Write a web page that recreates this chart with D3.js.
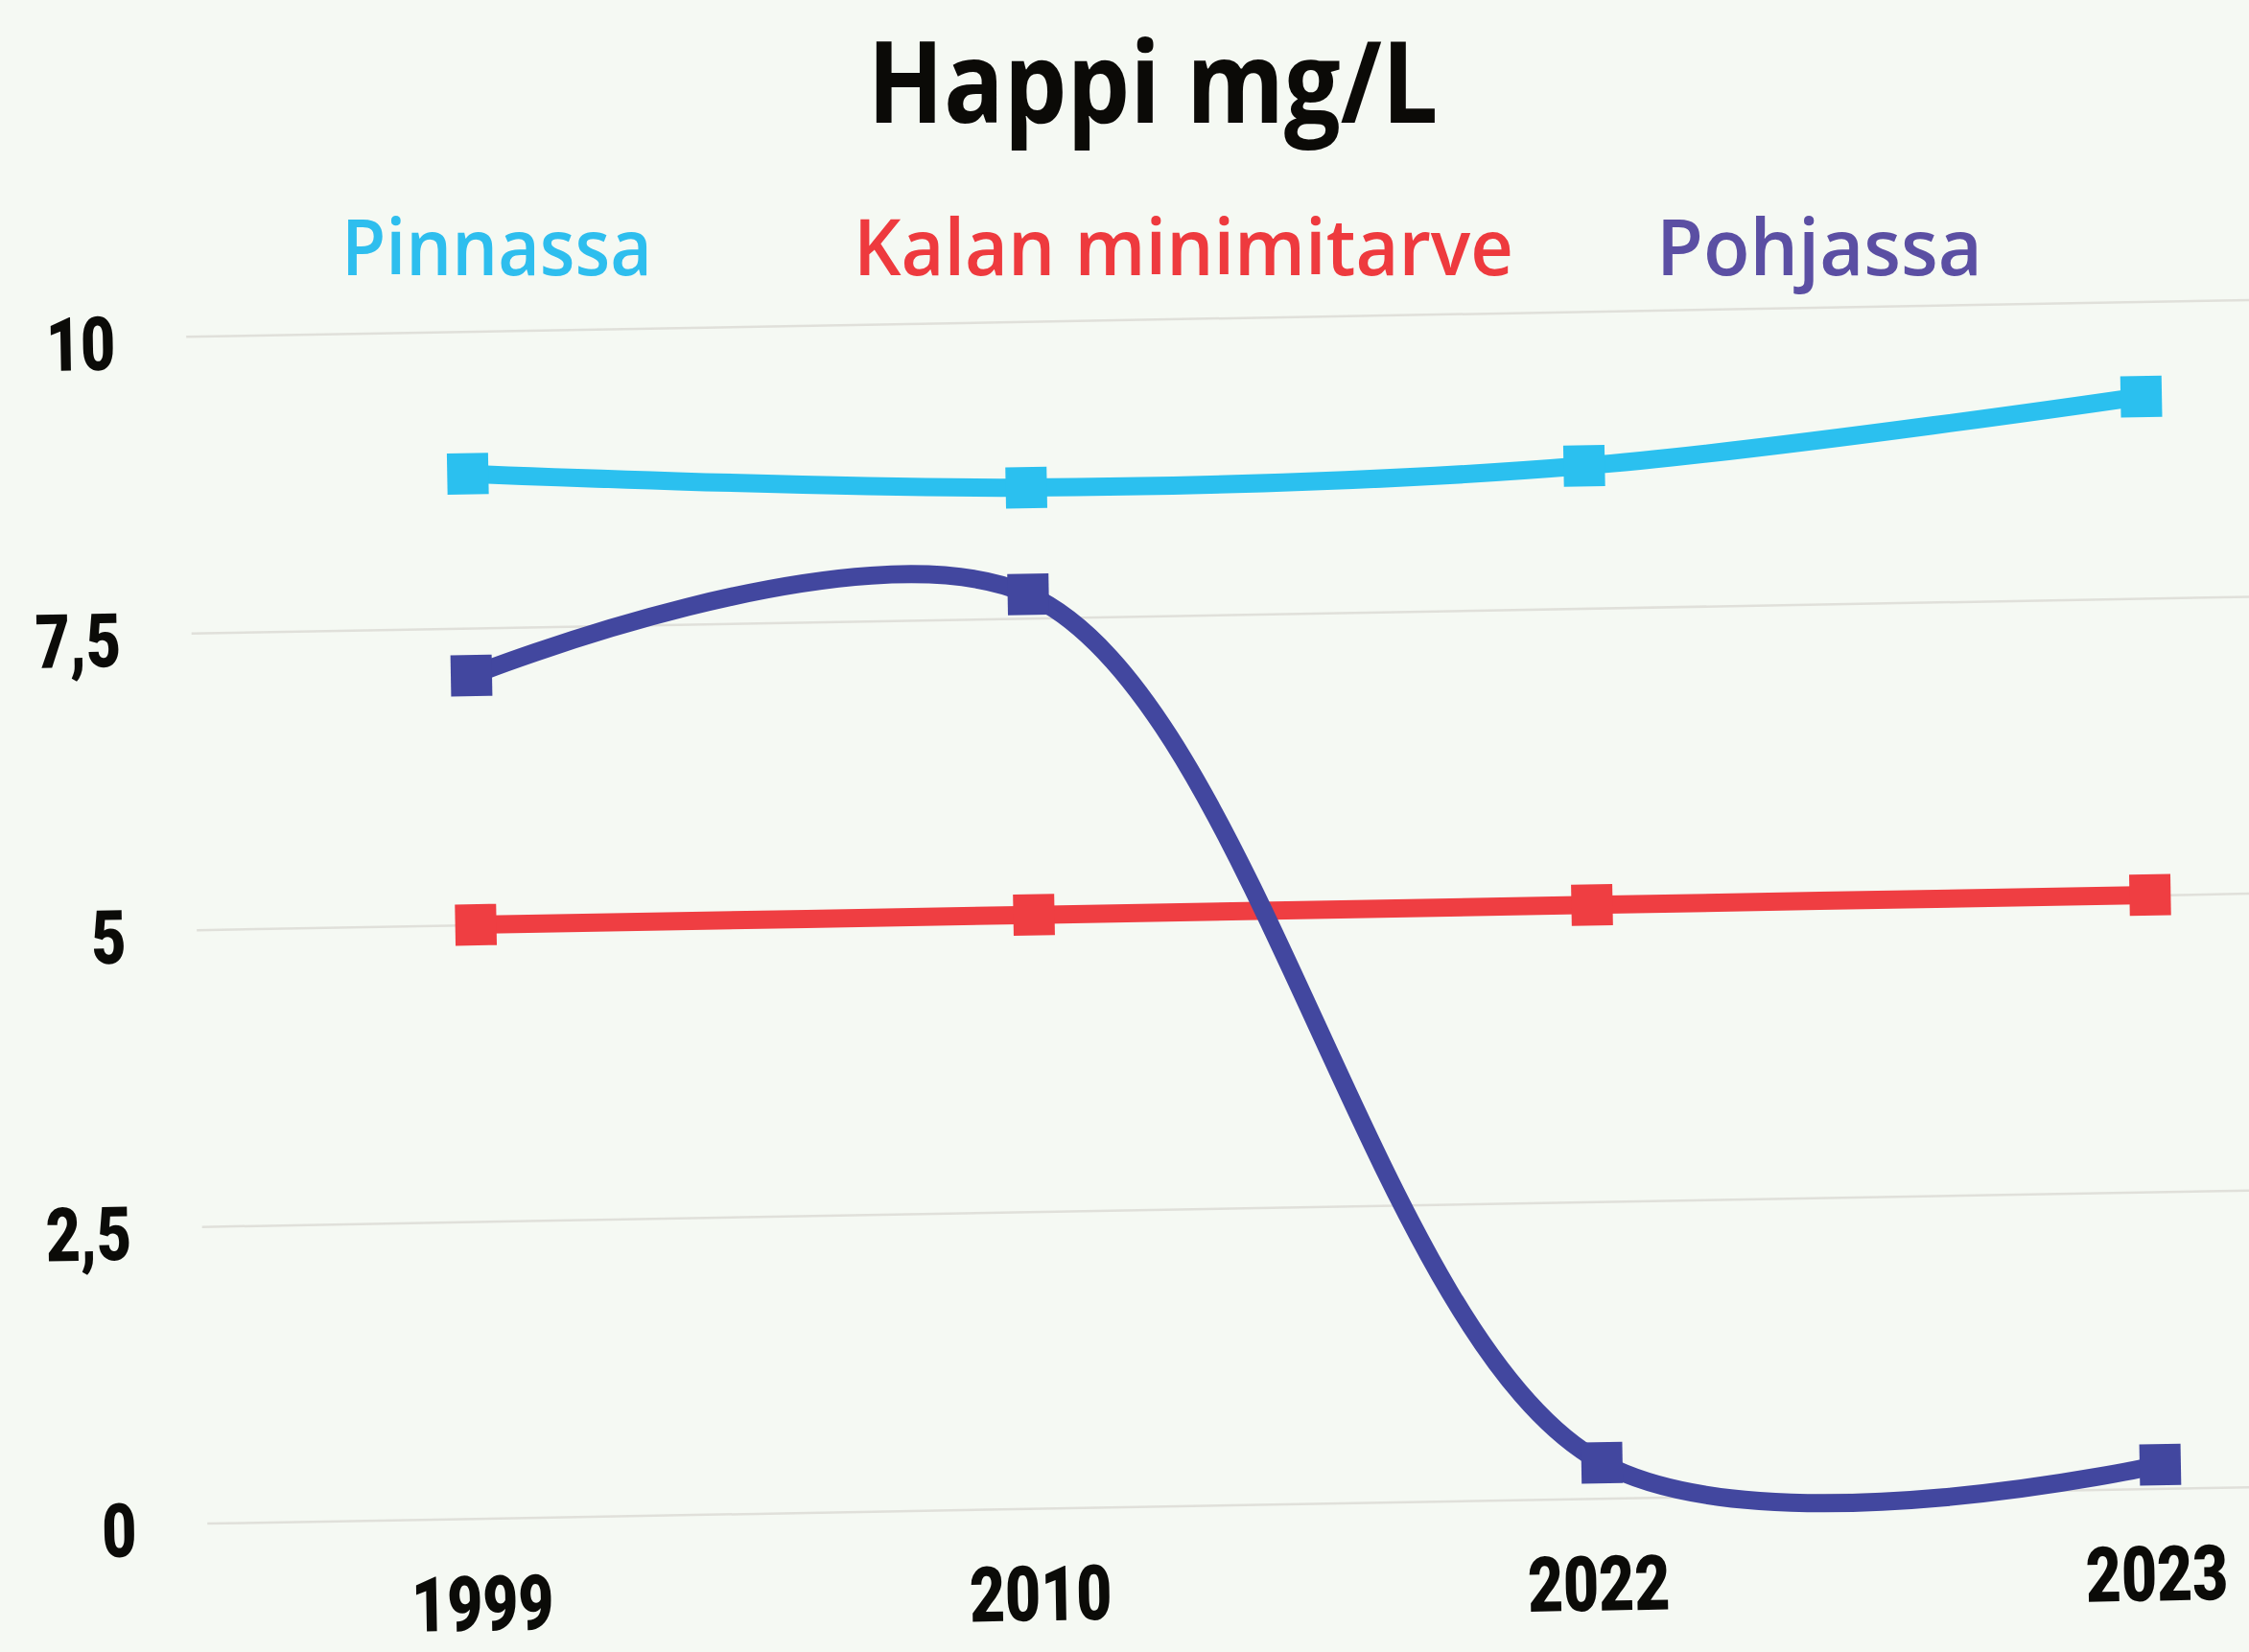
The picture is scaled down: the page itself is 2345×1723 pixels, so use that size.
<!DOCTYPE html>
<html>
<head>
<meta charset="utf-8">
<script src="https://cdn.jsdelivr.net/npm/d3@7"></script>
<style>
html,body{margin:0;padding:0;background:#F5F9F3;}
svg{display:block;}
</style>
</head>
<body>
<svg id="chart" width="2345" height="1723"></svg>
<script>
// ---- data ----
const years = ["1999", "2010", "2022", "2023"];
const pinnassa = [8.8, 8.6, 8.7, 9.2];
const kalanMinimitarve = [5, 5, 5, 5];
const pohjassa = [7.1, 7.7, 0.3, 0.2];
const yTicks = [0, 2.5, 5, 7.5, 10];
const yTickLabels = ["0", "2,5", "5", "7,5", "10"];
const seriesNames = ["Pinnassa", "Kalan minimitarve", "Pohjassa"];
const titleText = "Happi mg/L";

// ---- styles / layout ----
const W = 2345, H = 1723;
const lineColors = ["#2BC0EF", "#EF3E42", "#42479F"];
const legendColors = ["#2EBEEE", "#EE3A3E", "#5B4FA3"];
const seriesValues = [pinnassa, kalanMinimitarve, pohjassa];

const svg = d3.select("#chart");
svg.append("rect").attr("width", W).attr("height", H).attr("fill", "#F5F9F3");

// title
svg.append("text")
  .attr("x", 1202).attr("y", 128)
  .attr("text-anchor", "middle")
  .attr("font-family", "Open Sans")
  .attr("font-weight", 700)
  .attr("font-size", 118)
  .attr("fill", "#0B0A07")
  .attr("textLength", 595)
  .attr("lengthAdjust", "spacingAndGlyphs")
  .text(titleText);

// legend
const legendCenters = [518, 1234, 1897];
const legendWidths = [324, 688, 340];
svg.append("g").selectAll("text")
  .data(seriesNames)
  .join("text")
  .attr("x", (d, i) => legendCenters[i])
  .attr("y", 287)
  .attr("text-anchor", "middle")
  .attr("font-family", "Open Sans")
  .attr("font-weight", 600)
  .attr("font-size", 82)
  .attr("fill", (d, i) => legendColors[i])
  .attr("textLength", (d, i) => legendWidths[i])
  .attr("lengthAdjust", "spacingAndGlyphs")
  .text(d => d);

// scales
const x = d3.scalePoint().domain(years).range([496, 2242]);
const y = d3.scaleLinear().domain([0, 10]).range([1571, 333]);

// rotated plot group (hand-tilted look)
const g = svg.append("g").attr("transform", "rotate(-1.02 1200 950)");

const gridX0 = 205, gridX1 = 2460;
const yAxis = g.append("g")
  .attr("transform", `translate(${gridX0},0)`)
  .call(d3.axisLeft(y)
    .tickValues(yTicks)
    .tickFormat((d, i) => yTickLabels[i])
    .tickSize(-(gridX1 - gridX0))
    .tickPadding(74));
yAxis.select(".domain").remove();
yAxis.selectAll(".tick line")
  .attr("stroke", "#e0e0da")
  .attr("stroke-width", 2.5);
yAxis.selectAll(".tick text")
  .attr("font-family", "Roboto")
  .attr("font-weight", 900)
  .attr("font-size", 78)
  .attr("fill", "#0B0B08")
  .attr("dy", null)
  .attr("y", 33)
  .each(function () {
    const w = this.getComputedTextLength();
    d3.select(this).attr("textLength", w * 0.8).attr("lengthAdjust", "spacingAndGlyphs");
  });

const xAxis = g.append("g")
  .attr("transform", "translate(0,1600)")
  .call(d3.axisBottom(x).tickSize(0));
xAxis.select(".domain").remove();
xAxis.selectAll(".tick text")
  .attr("font-family", "Roboto")
  .attr("font-weight", 900)
  .attr("font-size", 80)
  .attr("fill", "#0B0B08")
  .attr("dy", null)
  .attr("x", -6)
  .attr("y", 88)
  .each(function () {
    const w = this.getComputedTextLength();
    d3.select(this).attr("textLength", w * 0.8).attr("lengthAdjust", "spacingAndGlyphs");
  });

// lines + markers
const line = d3.line()
  .x((d, i) => x(years[i]))
  .y(d => y(d))
  .curve(d3.curveCatmullRom);

const ms = 43;
seriesValues.forEach((vals, si) => {
  const sg = g.append("g");
  sg.append("path")
    .datum(vals)
    .attr("d", line)
    .attr("fill", "none")
    .attr("stroke", lineColors[si])
    .attr("stroke-width", 19)
    .attr("stroke-linejoin", "round");
  sg.selectAll("rect")
    .data(vals)
    .join("rect")
    .attr("x", (d, i) => x(years[i]) - ms / 2)
    .attr("y", d => y(d) - ms / 2)
    .attr("width", ms)
    .attr("height", ms)
    .attr("fill", lineColors[si]);
});
</script>
</body>
</html>
